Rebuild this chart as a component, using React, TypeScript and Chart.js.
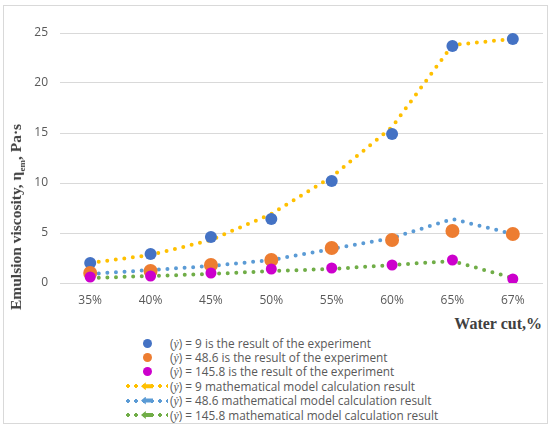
import React, { useEffect, useRef } from "react";
import { Chart, registerables } from "chart.js";

Chart.register(...registerables);

// water cut categories and viscosity values
const waterCut = ["35%", "40%", "45%", "50%", "55%", "60%", "65%", "67%"];
const exp9 = [2.0, 2.9, 4.6, 6.4, 10.2, 14.9, 23.7, 24.4];
const exp486 = [1.0, 1.2, 1.8, 2.3, 3.5, 4.3, 5.2, 4.9];
const exp1458 = [0.6, 0.7, 1.0, 1.4, 1.5, 1.8, 2.3, 0.4];
const model9 = [2.0, 2.8, 4.3, 6.9, 10.6, 15.6, 23.8, 24.4];
const model486 = [0.9, 1.3, 1.7, 2.3, 3.4, 4.5, 6.4, 4.9];
const model1458 = [0.5, 0.7, 0.9, 1.2, 1.4, 1.8, 2.2, 0.5];
const yTicks = [0, 5, 10, 15, 20, 25];

const legendItems = [
  { kind: "dot", color: "#4472C4", text: " = 9 is the result of the experiment" },
  { kind: "dot", color: "#ED7D31", text: " = 48.6 is the result of the experiment" },
  { kind: "dot", color: "#CC00CC", text: " = 145.8 is the result of the experiment" },
  { kind: "line", color: "#FFC000", text: " = 9 mathematical model calculation result" },
  { kind: "line", color: "#5B9BD5", text: " = 48.6 mathematical model calculation result" },
  { kind: "line", color: "#70AD47", text: " = 145.8 mathematical model calculation result" },
];

const tickFont = { family: "'Open Sans', sans-serif", size: 12 };
const gray = "#595959";

export default function App() {
  const canvasRef = useRef<HTMLCanvasElement>(null);

  useEffect(() => {
    const ctx = canvasRef.current?.getContext("2d");
    if (!ctx) return;

    const dotted = (label: string, data: number[], color: string) => ({
      label,
      data,
      borderColor: color,
      backgroundColor: color,
      borderWidth: 4,
      borderDash: [0, 8.6],
      borderCapStyle: "round" as const,
      pointRadius: 0,
      showLine: true,
      order: 10,
    });

    const points = (label: string, data: number[], color: string, r: number, order: number) => ({
      label,
      data,
      borderColor: color,
      backgroundColor: color,
      borderWidth: 0,
      pointRadius: r,
      showLine: false,
      order,
    });

    const chart = new Chart(ctx, {
      type: "line",
      data: {
        labels: waterCut,
        datasets: [
          points("exp 9", exp9, "#4472C4", 6, 3),
          points("exp 48.6", exp486, "#ED7D31", 7, 2),
          points("exp 145.8", exp1458, "#CC00CC", 5.5, 1),
          dotted("model 9", model9, "#FFC000"),
          dotted("model 48.6", model486, "#5B9BD5"),
          dotted("model 145.8", model1458, "#70AD47"),
        ],
      },
      options: {
        animation: false,
        responsive: false,
        events: [],
        layout: { padding: { top: 33, right: 3, bottom: 0, left: 0 } },
        plugins: { legend: { display: false }, tooltip: { enabled: false } },
        scales: {
          x: {
            offset: true,
            grid: { display: false, drawTicks: false },
            border: { display: false },
            ticks: { color: gray, font: tickFont, padding: 10, maxRotation: 0 },
            afterFit: (s: any) => {
              s.height = 27;
            },
          },
          y: {
            min: 0,
            max: 25,
            afterBuildTicks: (s: any) => {
              s.ticks = yTicks.map((v) => ({ value: v }));
            },
            grid: { color: "#d9d9d9", lineWidth: 1, drawTicks: false },
            border: { display: false },
            ticks: { color: gray, font: tickFont, padding: 12 },
            afterFit: (s: any) => {
              s.width = 60;
            },
          },
        },
      },
    });

    return () => chart.destroy();
  }, []);

  return (
    <div
      style={{
        position: "absolute",
        left: 0,
        top: 0,
        width: 550,
        height: 428,
        background: "#fff",
        fontFamily: "'Open Sans', sans-serif",
      }}
    >
      <div
        style={{
          position: "absolute",
          left: 3,
          top: 5,
          width: 545,
          height: 419,
          border: "1px solid #d9d9d9",
          boxSizing: "border-box",
        }}
      />
      <canvas
        ref={canvasRef}
        width={550}
        height={310}
        style={{ position: "absolute", left: 0, top: 0, width: 550, height: 310 }}
      />

      {/* y axis title */}
      <div
        style={{
          position: "absolute",
          left: 17,
          top: 217,
          transform: "translate(-50%, -50%) rotate(-90deg)",
          whiteSpace: "nowrap",
          fontFamily: "'Liberation Serif', serif",
          fontWeight: "bold",
          fontSize: 15.5,
          color: "#404040",
        }}
      >
        Emulsion viscosity, η<sub style={{ fontSize: 9 }}>em</sub>, Pa·s
      </div>

      {/* x axis title */}
      <div
        style={{
          position: "absolute",
          right: 550 - 542,
          top: 324,
          transform: "translateY(-50%)",
          whiteSpace: "nowrap",
          fontFamily: "'Liberation Serif', serif",
          fontWeight: "bold",
          fontSize: 16,
          color: "#404040",
        }}
      >
        Water cut,%
      </div>

      {/* legend */}
      {legendItems.map((it, i) => (
        <div
          key={i}
          style={{
            position: "absolute",
            left: 124,
            top: 343 + i * 14.4,
            height: 14,
            transform: "translateY(-50%)",
            display: "flex",
            alignItems: "center",
            whiteSpace: "nowrap",
            fontSize: 11.8,
            color: gray,
          }}
        >
          <div style={{ position: "relative", width: 46, height: 14 }}>
            {it.kind === "dot" ? (
              <div
                style={{
                  position: "absolute",
                  left: 18.5,
                  top: 2.5,
                  width: 9,
                  height: 9,
                  borderRadius: "50%",
                  background: it.color,
                }}
              />
            ) : (
              <>
                <div
                  style={{
                    position: "absolute",
                    left: 0,
                    top: 5,
                    width: 44,
                    height: 4,
                    backgroundImage: `radial-gradient(circle, ${it.color} 1.6px, transparent 2.1px)`,
                    backgroundSize: "8px 4px",
                    backgroundRepeat: "repeat-x",
                  }}
                />
                <div
                  style={{
                    position: "absolute",
                    left: 17,
                    top: 3,
                    width: 12,
                    height: 8,
                    background: it.color,
                    clipPath:
                      "polygon(0 50%, 40% 0, 40% 25%, 100% 25%, 100% 75%, 40% 75%, 40% 100%)",
                  }}
                />
              </>
            )}
          </div>
          <span>
            (<i style={{ fontFamily: "'Liberation Serif', serif" }}>ẏ</i>)
            {it.text}
          </span>
        </div>
      ))}
    </div>
  );
}
